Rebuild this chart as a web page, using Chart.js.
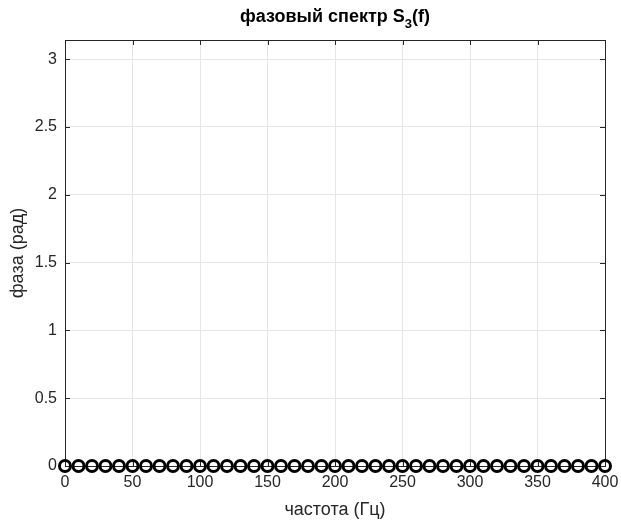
<!DOCTYPE html>
<html>
<head>
<meta charset="utf-8">
<script src="https://cdn.jsdelivr.net/npm/chart.js@4"></script>
<style>
  html, body { margin: 0; padding: 0; background: #fff; }
  #wrap { width: 621px; height: 524px; }
</style>
</head>
<body>
<div id="wrap"><canvas id="c" width="621" height="524"></canvas></div>
<script>
// Frequencies of the spectral lines (Hz) and their phases (rad)
const frequencies = [0,10,20,30,40,50,60,70,80,90,100,110,120,130,140,150,160,170,180,190,200,
                     210,220,230,240,250,260,270,280,290,300,310,320,330,340,350,360,370,380,390,400];
const phases = [0,0,0,0,0,0,0,0,0,0,0,0,0,0,0,0,0,0,0,0,0,
                0,0,0,0,0,0,0,0,0,0,0,0,0,0,0,0,0,0,0,0];
const xTicks = [0,50,100,150,200,250,300,350,400];
const yTicks = [0,0.5,1,1.5,2,2.5,3];

const titleMain = 'фазовый спектр S';
const titleSub = '3';
const titleTail = '(f)';
const xLabel = 'частота (Гц)';
const yLabel = 'фаза (рад)';

const FONT = '"Liberation Sans", Arial, Helvetica, sans-serif';
const TXT = '#262626';

const points = frequencies.map((f, i) => ({ x: f, y: phases[i] }));

// Axes box, inward ticks, stems and text
const decor = {
  id: 'decor',
  beforeDatasetsDraw(chart) {
    const { ctx, chartArea: a, scales: { x, y } } = chart;
    ctx.save();
    // stems
    ctx.strokeStyle = '#000';
    ctx.lineWidth = 1;
    points.forEach(p => {
      const px = Math.round(x.getPixelForValue(p.x)) + 0.5;
      ctx.beginPath();
      ctx.moveTo(px, y.getPixelForValue(0));
      ctx.lineTo(px, y.getPixelForValue(p.y));
      ctx.stroke();
    });
    // box
    ctx.strokeStyle = '#262626';
    ctx.lineWidth = 1;
    ctx.strokeRect(Math.round(a.left) + 0.5, Math.round(a.top) + 0.5,
                   Math.round(a.right - a.left), Math.round(a.bottom - a.top));
    // ticks pointing inward
    const tl = 5;
    ctx.beginPath();
    xTicks.forEach(v => {
      const px = Math.round(x.getPixelForValue(v)) + 0.5;
      ctx.moveTo(px, a.bottom); ctx.lineTo(px, a.bottom - tl);
      ctx.moveTo(px, a.top); ctx.lineTo(px, a.top + tl);
    });
    yTicks.forEach(v => {
      const py = Math.round(y.getPixelForValue(v)) + 0.5;
      ctx.moveTo(a.left, py); ctx.lineTo(a.left + tl, py);
      ctx.moveTo(a.right, py); ctx.lineTo(a.right - tl, py);
    });
    ctx.stroke();
    ctx.restore();
  },
  afterDraw(chart) {
    const { ctx, chartArea: a } = chart;
    const cx = (a.left + a.right) / 2;
    ctx.save();
    ctx.fillStyle = '#000';
    // title with subscript
    const big = 'bold 18px ' + FONT;
    const small = 'bold 13px ' + FONT;
    ctx.font = big;
    const w1 = ctx.measureText(titleMain).width;
    const w3 = ctx.measureText(titleTail).width;
    ctx.font = small;
    const w2 = ctx.measureText(titleSub).width;
    let sx = cx - (w1 + w2 + w3) / 2;
    const by = 22;
    ctx.textBaseline = 'alphabetic';
    ctx.textAlign = 'left';
    ctx.font = big; ctx.fillText(titleMain, sx, by); sx += w1;
    ctx.font = small; ctx.fillText(titleSub, sx, by + 6); sx += w2;
    ctx.font = big; ctx.fillText(titleTail, sx, by);
    // axis titles
    ctx.fillStyle = TXT;
    ctx.font = '18px ' + FONT;
    ctx.textAlign = 'center';
    ctx.textBaseline = 'middle';
    ctx.fillText(xLabel, cx, 510);
    ctx.translate(18, (a.top + a.bottom) / 2);
    ctx.rotate(-Math.PI / 2);
    ctx.fillText(yLabel, 0, 0);
    ctx.restore();
  }
};

const fmt = v => String(Math.round(v * 10) / 10);

new Chart(document.getElementById('c'), {
  type: 'scatter',
  data: {
    datasets: [{
      data: points,
      pointStyle: 'circle',
      pointRadius: 5.5,
      pointBorderWidth: 3,
      borderColor: '#000',
      backgroundColor: 'rgba(0,0,0,0)',
      pointHoverRadius: 5.5,
      clip: false
    }]
  },
  options: {
    responsive: false,
    animation: false,
    events: [],
    layout: { padding: { left: 0, right: 16, top: 40, bottom: 0 } },
    plugins: { legend: { display: false }, tooltip: { enabled: false }, title: { display: false } },
    scales: {
      x: {
        type: 'linear', min: 0, max: 400,
        afterFit(s) { s.height = 58; s.paddingLeft = 0; s.paddingRight = 0; },
        afterBuildTicks(s) { s.ticks = xTicks.map(v => ({ value: v })); },
        grid: { color: '#e6e6e6', drawTicks: false },
        border: { display: false },
        ticks: { color: TXT, font: { family: FONT, size: 16 }, padding: 7, maxRotation: 0, callback: fmt }
      },
      y: {
        type: 'linear', min: 0, max: Math.PI,
        afterFit(s) { s.width = 65; s.paddingTop = 0; s.paddingBottom = 0; },
        afterBuildTicks(s) { s.ticks = yTicks.map(v => ({ value: v })); },
        grid: { color: '#e6e6e6', drawTicks: false },
        border: { display: false },
        ticks: { color: TXT, font: { family: FONT, size: 16 }, padding: 8, callback: fmt }
      }
    }
  },
  plugins: [decor]
});
</script>
</body>
</html>
